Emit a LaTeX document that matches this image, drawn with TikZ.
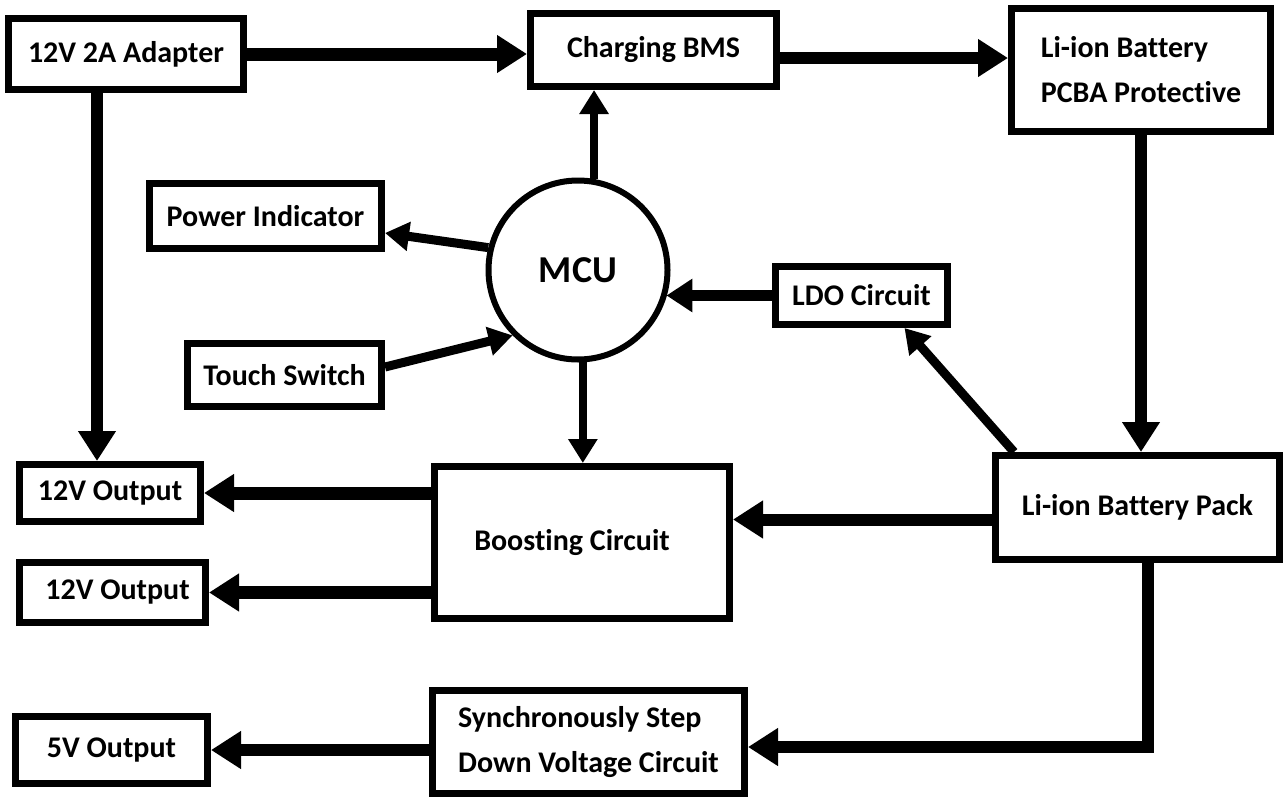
\documentclass[tikz,border=0pt]{standalone}
\usepackage{fontspec}
\setmainfont{Carlito}[Ligatures=NoCommon]
\usetikzlibrary{arrows.meta}
\newcommand\bxf{\fontsize{30}{45}\selectfont\bfseries}
\newcommand\mcuf{\fontsize{38}{44}\selectfont\bfseries}
\begin{document}
\begin{tikzpicture}[x=1pt,y=-1pt,
  box/.style={draw, line width=7pt, inner sep=0pt, font=\bxf, align=center},
  hv/.style={line width=12pt, -{Triangle[length=30pt,width=36pt]}},
  th/.style={line width=9pt, -{Triangle[length=24pt,width=28pt]}},
  wire/.style={line width=12pt}]
\useasboundingbox (0,0) rectangle (1285,798);
\fill[white] (0,0) rectangle (1285,798);
% boxes
\node[box, minimum width=235pt, minimum height=71pt] (adapter) at (126,54) {12V 2A Adapter};
\node[box, minimum width=246pt, minimum height=73pt] (bms) at (653.5,50) {Charging BMS};
\node[box, minimum width=259pt, minimum height=123pt, align=left] (pcba) at (1141,70) {Li-ion Battery\\PCBA Protective};
\node[box, minimum width=232pt, minimum height=65pt] (power) at (265.5,216) {Power Indicator};
\node[box, minimum width=194pt, minimum height=63pt] (touch) at (284.5,375) {Touch Switch};
\node[box, minimum width=172pt, minimum height=58pt] (ldo) at (861.5,295.5) {LDO Circuit};
\node[box, minimum width=284pt, minimum height=104pt] (battery) at (1137.5,507.5) {Li-ion Battery Pack};
\node[box, minimum width=295pt, minimum height=152pt] (boost) at (582,542.5) {Boosting Circuit\hspace*{20pt}};
\node[box, minimum width=312pt, minimum height=103pt, align=left] (sync) at (588.5,742) {Synchronously Step\\Down Voltage Circuit};
\node[box, minimum width=181pt, minimum height=57pt] (out1) at (110,493) {12V Output};
\node[box, minimum width=186pt, minimum height=60pt] (out2) at (112.5,592.5) {\hspace*{10pt}12V Output};
\node[box, minimum width=192pt, minimum height=67pt] (out5) at (111.5,750) {5V Output};
\node[draw, circle, line width=6pt, minimum size=179pt, inner sep=0pt, font=\mcuf] (mcu) at (578,270) {MCU};
% connectors
\draw[hv, line width=13pt] (adapter.east) -- (adapter.east -| bms.west);
\draw[hv] ([yshift=-8pt]bms.east) -- ([yshift=-8pt]bms.east -| pcba.west);
\draw[hv] (pcba.south) -- (pcba.south |- battery.north);
\draw[th, line width=8pt] (mcu.80) -- (mcu.80 |- bms.south);
\draw[th] (mcu.166) -- ([yshift=-17pt]power.east);
\draw[th] ([yshift=8pt]touch.east) -- (mcu.225);
\draw[hv, line width=11pt, -{Triangle[length=26pt,width=32pt]}] (ldo.west) -- (ldo.west -| mcu.-17);
\draw[th] ([xshift=22pt]battery.north west) -- ([xshift=43pt]ldo.south);
\draw[hv] ([yshift=-12pt]battery.west) -- ([yshift=-12pt]battery.west -| boost.east);
\draw[th, line width=8pt] (mcu.-87) -- (mcu.-87 |- boost.north);
\draw[hv, line width=13pt] (boost.west |- out1.east) -- (out1.east);
\draw[hv, line width=13pt] (boost.west |- out2.east) -- (out2.east);
\draw[hv] ([xshift=10pt]battery.south) |- ([yshift=-5pt]sync.east);
\draw[hv] (sync.west |- out5.east) -- (out5.east);
\draw[hv] ([xshift=-29pt]adapter.south) -- ([xshift=-29pt]adapter.south |- out1.north);
\end{tikzpicture}
\end{document}
